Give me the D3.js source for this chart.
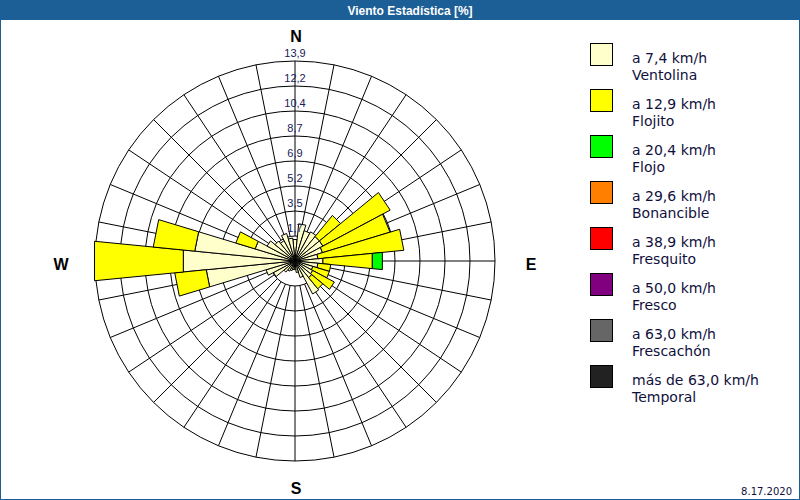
<!DOCTYPE html>
<html>
<head>
<meta charset="utf-8">
<script src="https://cdn.jsdelivr.net/npm/d3@7"></script>
<style>
html,body{margin:0;padding:0;background:#fff;}
svg{display:block;}
</style>
</head>
<body>
<svg id="chart" width="800" height="500"></svg>
<script>
// ---- data ----
const title = "Viento Estadística [%]";
const dateLabel = "8.17.2020";
const directions = ["N","NbE","NNE","NEbN","NE","NEbE","ENE","EbN","E","EbS","ESE","SEbE","SE","SEbS","SSE","SbE",
                    "S","SbW","SSW","SWbS","SW","SWbW","WSW","WbS","W","WbN","WNW","NWbW","NW","NWbN","NNW","NbW"];
const ventolina = [1.5,2.6,2.2,2.3,2.2,2.2,2.0,1.6,1.95,1.6,1.3,1.4,1.5,2.6,1.2,0.8,0.6,0.6,0.7,0.8,1.0,1.7,2.1,6.2,7.8,7.0,2.9,2.2,1.8,1.6,2.0,1.6];
const flojito   = [0,0,0,0,1.9,5.3,4.9,6.0,3.45,0.9,1.2,1.7,1.0,0,0,0,0,0,0,0,0,0,0,2.2,6.2,2.9,1.4,0,0,0,0,0];
const flojo     = [0,0,0,0,0,0,0,0,0.7,0,0,0,0,0,0,0,0,0,0,0,0,0,0,0,0,0,0,0,0,0,0,0];
const ringLabels = ["1,7","3,5","5,2","6,9","8,7","10,4","12,2","13,9"];
const ringValues = [1.7375,3.475,5.2125,6.95,8.6875,10.425,12.1625,13.9];
const compass = ["N","E","S","W"];
const legendRange = ["a 7,4 km/h","a 12,9 km/h","a 20,4 km/h","a 29,6 km/h","a 38,9 km/h","a 50,0 km/h","a 63,0 km/h","más de 63,0 km/h"];
const legendName  = ["Ventolina","Flojito","Flojo","Bonancible","Fresquito","Fresco","Frescachón","Temporal"];
const legendColor = ["#FFFFCC","#FFFF00","#00FF00","#FF8000","#FF0000","#800080","#666666","#222222"];

// ---- drawing ----
const svg = d3.select("#chart");
const W = 800, H = 500;
const cx = 295, cy = 261, R = 200;
const blue = "#1C5E96";

svg.append("rect").attr("x",0.5).attr("y",0.5).attr("width",W-1).attr("height",H-1)
  .attr("fill","#fff").attr("stroke",blue).attr("stroke-width",1);
svg.append("rect").attr("x",0).attr("y",0).attr("width",W).attr("height",20).attr("fill",blue);
svg.append("text").attr("x",410).attr("y",15).attr("text-anchor","middle")
  .attr("font-family","Liberation Sans, Arial, sans-serif").attr("font-weight","bold")
  .attr("font-size",12).attr("fill","#fff").text(title);

const r = d3.scaleLinear().domain([0, 13.9]).range([0, R]);
const angle = d3.scaleBand().domain(directions).range([0, 2*Math.PI]).align(0).paddingInner(0).paddingOuter(0);
const half = angle.bandwidth()/2;
const centerAngle = d => angle(d); // N at 0, clockwise

const g = svg.append("g").attr("transform", `translate(${cx},${cy})`);

// rings
g.selectAll("circle.ring").data(ringValues).enter().append("circle")
  .attr("r", d => r(d)).attr("fill","none").attr("stroke","#000").attr("stroke-width",1);

// spokes
const radial = d3.lineRadial();
g.selectAll("path.spoke").data(directions).enter().append("path")
  .attr("d", d => radial([[centerAngle(d), r(ringValues[0])],[centerAngle(d), R]]))
  .attr("stroke","#000").attr("stroke-width",1).attr("fill","none");

// stacked bars
const series = [ventolina, flojito, flojo];
const poly = d3.lineRadial().curve(d3.curveLinearClosed);
series.forEach((vals, si) => {
  directions.forEach((dir, i) => {
    const v = vals[i];
    if (!v) return;
    let base = 0;
    for (let k = 0; k < si; k++) base += series[k][i];
    const a = centerAngle(dir);
    const r0 = r(base), r1 = r(base + v);
    const pts = r0 === 0
      ? [[0,0],[a-half, r1],[a+half, r1]]
      : [[a-half, r0],[a-half, r1],[a+half, r1],[a+half, r0]];
    g.append("path").attr("d", poly(pts))
      .attr("fill", legendColor[si]).attr("stroke","#000").attr("stroke-width",1);
  });
});

// ring labels
g.selectAll("text.rl").data(ringValues).enter().append("text")
  .attr("x", 0).attr("y", d => -r(d) - 4).attr("text-anchor","middle")
  .attr("font-family","Liberation Sans, Arial, sans-serif").attr("font-size",11).attr("fill","#18205a")
  .text((d,i) => ringLabels[i]);

// compass labels
const compassPos = [[296,42],[531,270],[296,494],[61,270]];
compass.forEach((c,i) => {
  svg.append("text").attr("x",compassPos[i][0]).attr("y",compassPos[i][1]).attr("text-anchor","middle")
    .attr("font-family","Liberation Sans, Arial, sans-serif").attr("font-weight","bold")
    .attr("font-size",16).attr("fill","#000").text(c);
});

// legend
const lg = svg.append("g");
legendName.forEach((name,i) => {
  const y = 43 + i*46;
  lg.append("rect").attr("x",590.5).attr("y",y+0.5).attr("width",22).attr("height",22)
    .attr("fill",legendColor[i]).attr("stroke","#000").attr("stroke-width",1);
  lg.append("text").attr("x",632).attr("y",y+20)
    .attr("font-family","DejaVu Sans, sans-serif").attr("font-size",14).attr("fill","#10103c").text(legendRange[i]);
  lg.append("text").attr("x",632).attr("y",y+37)
    .attr("font-family","DejaVu Sans, sans-serif").attr("font-size",14).attr("fill","#10103c").text(name);
});

svg.append("text").attr("x",792).attr("y",495).attr("text-anchor","end")
  .attr("font-family","DejaVu Sans, sans-serif").attr("font-size",10).attr("fill","#10103c").text(dateLabel);
</script>
</body>
</html>
